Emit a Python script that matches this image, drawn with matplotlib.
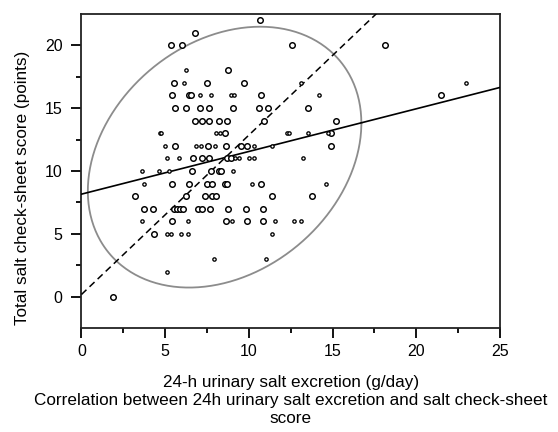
import numpy as np
import matplotlib
matplotlib.use("Agg")
import matplotlib.pyplot as plt
from matplotlib.ticker import MultipleLocator

plt.rcParams['font.family'] = ['Liberation Sans', 'DejaVu Sans']

# ---- data ----
large_x = [10.64, 6.76, 5.32, 6.03, 12.6, 18.13, 8.76,
           5.52, 7.51, 9.70,
           5.43, 6.40, 6.55, 10.72, 21.48,
           5.58, 6.23, 7.11, 7.60, 9.07, 10.60, 11.12, 13.55,
           6.8, 7.2, 7.6, 8.2, 8.7, 10.92, 15.22,
           8.57, 14.9,
           5.60, 7.56, 8.65, 9.55, 9.87, 14.9,
           6.64, 7.2, 7.64, 8.7, 8.95,
           6.58, 7.72, 8.2, 8.35,
           5.41, 6.45, 7.5, 7.78, 8.55, 8.68, 10.72,
           3.22, 6.24, 7.38, 7.78, 8.03, 11.36, 13.76,
           3.74, 4.25, 5.54, 5.72, 5.88, 6.05, 6.96, 7.21, 7.68, 8.75, 9.8, 10.84,
           5.41, 8.63, 9.89, 10.84,
           4.36,
           1.86]
large_y = [22, 21, 20, 20, 20, 20, 18,
           17, 17, 17,
           16, 16, 16, 16, 16,
           15, 15, 15, 15, 15, 15, 15, 15,
           14, 14, 14, 14, 14, 14, 14,
           13, 13,
           12, 12, 12, 12, 12, 12,
           11, 11, 11, 11, 11,
           10, 10, 10, 10,
           9, 9, 9, 9, 9, 9, 9,
           8, 8, 8, 8, 8, 8, 8,
           7, 7, 7, 7, 7, 7, 7, 7, 7, 7, 7, 7,
           6, 6, 6, 6,
           5,
           0]

small_x = [6.25,
           6.12, 13.09, 22.95,
           7.09, 7.76, 8.91, 9.1, 14.19,
           4.68, 4.78, 8.03, 8.27, 12.30, 12.42, 13.56, 14.72,
           4.99, 6.86, 7.16, 8.0, 10.32, 11.36,
           5.11, 5.83, 9.2, 9.42, 9.99, 10.3, 13.23,
           3.64, 4.65, 5.21, 9.07,
           3.73, 10.2, 14.6,
           3.63, 6.34, 8.97, 11.56, 12.71, 13.13,
           5.08, 5.32, 5.92, 6.36, 11.36,
           7.92, 11.04,
           5.09]
small_y = [18,
           17, 17, 17,
           16, 16, 16, 16, 16,
           13, 13, 13, 13, 13, 13, 13, 13,
           12, 12, 12, 12, 12, 12,
           11, 11, 11, 11, 11, 11, 11,
           10, 10, 10, 10,
           9, 9, 9,
           6, 6, 6, 6, 6, 6,
           5, 5, 5, 5, 5,
           3, 3,
           2]

# regression line (solid) and dashed reference line
reg_intercept, reg_slope = 8.16, 0.339
dash_intercept, dash_slope = 0.19, 1.266
# ellipse parameters
ell_cx, ell_cy, ell_ax, ell_by, ell_cos = 8.55, 11.1, 8.17, 10.36, 0.26

xlabel = "24-h urinary salt excretion (g/day)"
caption = "Correlation between 24h urinary salt excretion and salt check-sheet\nscore"
ylabel = "Total salt check-sheet score (points)"

# ---- figure ----
fig = plt.figure(figsize=(5.58, 4.32), dpi=100)
ax = fig.add_axes([0.146, 0.2414, 0.750, 0.7256])

ax.plot(large_x, large_y, 'o', ms=4.0, mfc='white', mec='black', mew=1.05, zorder=4)
ax.plot(small_x, small_y, 'o', ms=2.4, mfc='white', mec='black', mew=0.95, zorder=4)

xs = np.array([0, 25])
ax.plot(xs, reg_intercept + reg_slope * xs, color='black', lw=1.2, zorder=3)
ax.plot(xs, dash_intercept + dash_slope * xs, color='black', lw=1.1,
        dashes=(4.5, 2.8), zorder=3)

t = np.linspace(0, 2 * np.pi, 400)
delta = np.arccos(ell_cos)
ax.plot(ell_cx + ell_ax * np.cos(t), ell_cy + ell_by * np.cos(t - delta),
        color='#8c8c8c', lw=1.3, zorder=2)

ax.set_xlim(0, 25)
ax.set_ylim(-2.45, 22.45)
ax.xaxis.set_major_locator(MultipleLocator(5))
ax.xaxis.set_minor_locator(MultipleLocator(2.5))
ax.yaxis.set_major_locator(MultipleLocator(5))
ax.yaxis.set_minor_locator(MultipleLocator(2.5))
ax.tick_params(which='major', direction='out', length=7, width=1.3, labelsize=11.5)
ax.tick_params(axis='y', which='major', pad=6.5)
ax.tick_params(axis='x', which='major', pad=5)
ax.tick_params(which='minor', direction='out', length=3.6, width=1.3)
for s in ax.spines.values():
    s.set_linewidth(1.3)
    s.set_color('#222222')

ax.set_xlabel(xlabel + "\n" + caption, fontsize=12.3, linespacing=1.25, va='top')
ax.xaxis.set_label_coords(0.5, -0.15)
ax.set_ylabel(ylabel, fontsize=12.3)
ax.yaxis.set_label_coords(-0.123, 0.445)

fig.savefig("out.png", dpi=100)
